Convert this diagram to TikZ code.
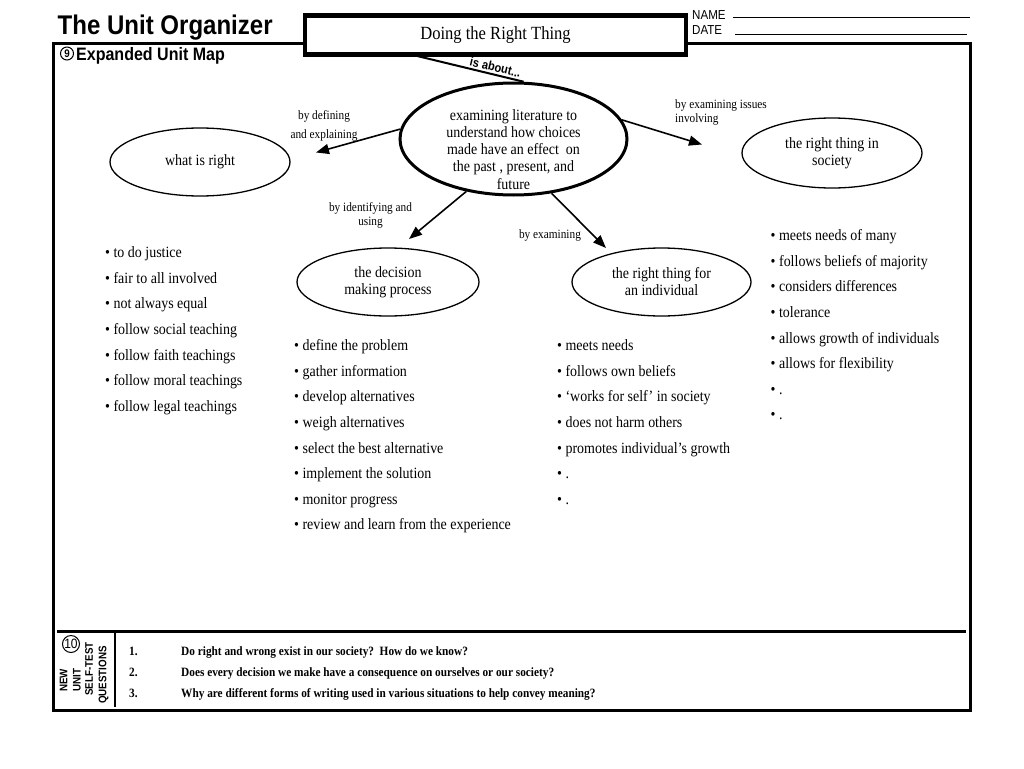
\documentclass[tikz,border=0pt]{standalone}
\usepackage{fontspec}
\setmainfont{Liberation Serif}[FakeStretch=0.89]
\setsansfont{Liberation Sans}[FakeStretch=0.89]
\usetikzlibrary{shapes.geometric,arrows.meta}
\newcommand\myfs[2]{\fontsize{#1}{#2}\selectfont}
\begin{document}
\begin{tikzpicture}[x=1pt,y=-1pt,
  ell/.style={ellipse,draw,line width=1.3pt,inner sep=0pt,align=center,font=\myfs{15.7}{17}},
  conn/.style={line width=1.6pt,-{Triangle[length=13pt,width=10pt]}},
  lbl/.style={font=\myfs{12.7}{14},inner sep=0pt,align=center},
  bul/.style={font=\myfs{15.7}{17},inner sep=0pt,anchor=base west},
  qst/.style={font=\bfseries\myfs{12.7}{14},inner sep=0pt,anchor=base west},
  vt/.style={font=\sffamily\bfseries\myfs{11}{12},rotate=90,inner sep=0pt},
  circnum/.style={circle,draw,line width=1pt,inner sep=0pt}]

\useasboundingbox (0,0) rectangle (1024,768);
\fill[white] (0,0) rectangle (1024,768);

% main frame
\draw[line width=3pt] (53,43.3) rectangle (970,710);

% title box
\node[draw,line width=4.5pt,fill=white,minimum width=381pt,minimum height=39pt,
      inner sep=0pt,font=\myfs{18.6}{20}] (t) at (495.5,35) {Doing the Right Thing};

% title
\node[font=\sffamily\bfseries\myfs{27}{28},anchor=base west,inner sep=0pt] (title) at (57.5,35) {The Unit Organizer};

% name/date
\node[font=\sffamily\myfs{13}{14},anchor=base west,inner sep=0pt] (nm) at (692,19.5) {NAME};
\node[font=\sffamily\myfs{13}{14},anchor=base west,inner sep=0pt] (dt) at (692,35) {DATE};
\draw[line width=1.2pt] (733,17.3) -- (970,17.3);
\draw[line width=1.2pt] (735,34.3) -- (967.3,34.3);

% section 9
\node[circnum,minimum size=13pt,font=\sffamily\bfseries\myfs{11}{12}] (n9) at (67,53.5) {9};
\node[font=\sffamily\bfseries\myfs{18}{20},anchor=base west,inner sep=0pt] (eum) at (76,60) {Expanded Unit Map};

% central ellipse
\node[ellipse,draw,line width=3pt,minimum width=227pt,minimum height=112pt,inner sep=0pt] (c) at (513.5,139) {};
\node[font=\myfs{15.7}{17.1},align=center,inner sep=0pt] (ct) at (513.5,149.5)
  {examining literature to\\understand how choices\\made have an effect~ on\\the past , present, and\\future};

% is about
\coordinate (ia) at (413,55);
\draw[line width=2pt] (ia) -- (c.80)
  node[pos=0.73,sloped,above=2pt,inner sep=0pt,font=\sffamily\bfseries\myfs{12.5}{14}] (ab) {is about...};

% outer ellipses
\node[ell,minimum width=180pt,minimum height=68pt] (wr) at (200,162) {what is right};
\node[ell,minimum width=180pt,minimum height=70pt] (rs) at (832,153) {the right thing in\\society};
\node[ell,minimum width=182pt,minimum height=68pt] (dm) at (388,282) {the decision\\making process};
\node[ell,minimum width=179pt,minimum height=68pt] (ri) at (661.5,282) {the right thing for\\an individual};

% connectors
\coordinate (e1) at (316,152.5);
\coordinate (e2) at (702,144.5);
\coordinate (e3) at (409,239);
\coordinate (e4) at (606,248);
\draw[conn] (c.175) -- (e1);
\draw[conn] (c.10) -- (e2);
\draw[conn] (c.228) -- (e3);
\draw[conn] (c.305) -- (e4);

% connector labels
\node[lbl,font=\myfs{12.7}{19}] (l1) at (324,125.8) {by defining\\and explaining};
\node[lbl,align=left,anchor=west] (l2) at (675,112.8) {by examining issues\\involving};
\node[lbl] (l3) at (370.5,215.8) {by identifying and\\using};
\node[lbl,anchor=base] (l4) at (550,238.3) {by examining};

% bullet lists
\foreach \tx [count=\i from 0] in {to do justice,fair to all involved,not always equal,follow social teaching,follow faith teachings,follow moral teachings,follow legal teachings}
  \node[bul] (ba\i) at (105,{257.3+25.7*\i}) {• \tx};
\foreach \tx [count=\i from 0] in {define the problem,gather information,develop alternatives,weigh alternatives,select the best alternative,implement the solution,monitor progress,review and learn from the experience}
  \node[bul] (bb\i) at (294,{350.7+25.6*\i}) {• \tx};
\foreach \tx [count=\i from 0] in {meets needs,follows own beliefs,‘works for self’ in society,does not harm others,promotes individual’s growth,.,.}
  \node[bul] (bc\i) at (557,{350.7+25.6*\i}) {• \tx};
\foreach \tx [count=\i from 0] in {meets needs of many,follows beliefs of majority,considers differences,tolerance,allows growth of individuals,allows for flexibility,.,.}
  \node[bul] (bd\i) at (770.5,{240.7+25.6*\i}) {• \tx};

% bottom section
\draw[line width=3pt] (57,631.7) -- (966,631.7);
\draw[line width=1.5pt] (115,632) -- (115,707);
\node[circnum,minimum size=17pt,font=\sffamily\myfs{13.5}{14}] (n10) at (71,644) {10};
\node[vt] (v1) at (63.5,680.5) {NEW};
\node[vt] (v2) at (77,680) {UNIT};
\node[vt] (v3) at (89,669) {SELF-TEST};
\node[vt] (v4) at (103.5,675) {QUESTIONS};

\node[qst] (q1n) at (129,655) {1.};
\node[qst] (q2n) at (129,676.5) {2.};
\node[qst] (q3n) at (129,697) {3.};
\node[qst] (q1) at (181,655) {Do right and wrong exist in our society?\ \ How do we know?};
\node[qst] (q2) at (181,676.5) {Does every decision we make have a consequence on ourselves or our society?};
\node[qst] (q3) at (181,697) {Why are different forms of writing used in various situations to help convey meaning?};
\end{tikzpicture}
\end{document}
